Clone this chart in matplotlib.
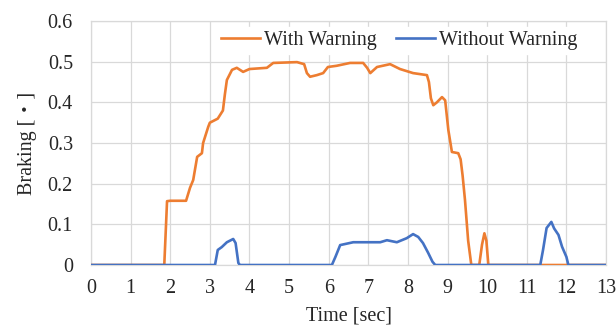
import matplotlib
matplotlib.use("Agg")
import matplotlib.pyplot as plt

plt.rcParams['font.family'] = ['Liberation Serif', 'Noto Sans CJK JP', 'DejaVu Serif']

# With Warning
t_with = [0, 1.85, 1.92, 2.0, 2.4, 2.5, 2.58, 2.68, 2.8, 2.83, 2.96, 3.0, 3.2, 3.33, 3.38,
          3.43, 3.56, 3.68, 3.84, 4.0, 4.44, 4.6, 5.2, 5.38, 5.45, 5.53, 5.7, 5.86, 5.98,
          6.2, 6.54, 6.87, 6.97, 7.05, 7.22, 7.55, 7.8, 8.13, 8.48, 8.53, 8.58, 8.64, 8.73,
          8.86, 8.94, 9.02, 9.11, 9.27, 9.33, 9.38, 9.44, 9.52, 9.6, 9.8, 9.87, 9.93, 9.98,
          10.03, 11.34, 12.05, 13]
v_with = [0, 0, 0.157, 0.158, 0.158, 0.19, 0.209, 0.266, 0.275, 0.30, 0.34, 0.35, 0.36, 0.38, 0.42,
          0.455, 0.48, 0.485, 0.475, 0.482, 0.485, 0.497, 0.499, 0.494, 0.472, 0.463, 0.467, 0.472, 0.487,
          0.49, 0.497, 0.497, 0.485, 0.472, 0.487, 0.494, 0.482, 0.472, 0.467, 0.45, 0.41, 0.393, 0.40,
          0.413, 0.405, 0.332, 0.278, 0.275, 0.26, 0.22, 0.16, 0.06, 0, 0, 0.05, 0.078, 0.06,
          0, 0, 0, 0]

# Without Warning
t_without = [0, 3.13, 3.2, 3.3, 3.43, 3.59, 3.65, 3.72, 3.76, 6.08, 6.17, 6.29, 6.62, 7.3, 7.47,
             7.72, 7.97, 8.13, 8.26, 8.38, 8.51, 8.62, 8.69, 11.34, 11.41, 11.5, 11.62, 11.69,
             11.8, 11.89, 12.0, 12.05, 13]
v_without = [0, 0, 0.037, 0.044, 0.056, 0.064, 0.054, 0.005, 0, 0, 0.02, 0.049, 0.056, 0.056, 0.061,
             0.056, 0.066, 0.076, 0.069, 0.054, 0.03, 0.008, 0, 0, 0.037, 0.091, 0.106, 0.09,
             0.074, 0.045, 0.02, 0, 0]

x_ticks = list(range(0, 14))
y_ticks = [0, 0.1, 0.2, 0.3, 0.4, 0.5, 0.6]
y_tick_labels = ['0', '0.1', '0.2', '0.3', '0.4', '0.5', '0.6']

FS = 14.5
TXT = '#262626'

fig = plt.figure(figsize=(6.16, 3.29), dpi=100)
ax = fig.add_axes([0.1477, 0.1945, 0.8361, 0.7415])

ax.plot(t_with, v_with, color='#ED7D31', lw=1.9, label='With Warning', zorder=3)
ax.plot(t_without, v_without, color='#4472C4', lw=1.9, label='Without Warning', zorder=4)

ax.set_xlim(0, 13)
ax.set_ylim(0, 0.6)
ax.set_xticks(x_ticks)
ax.set_yticks(y_ticks)
ax.set_yticklabels(y_tick_labels)
ax.grid(True, color='#D9D9D9', lw=0.9)
ax.set_axisbelow(True)
for s in ax.spines.values():
    s.set_color('#D9D9D9')
    s.set_linewidth(0.9)
ax.tick_params(length=0, labelsize=FS, colors=TXT)
ax.tick_params(axis='x', pad=10)
ax.tick_params(axis='y', pad=13)
ax.set_xlabel('Time [sec]', fontsize=FS, color=TXT, labelpad=6)
ax.set_ylabel('Braking [・]', fontsize=FS, color=TXT, labelpad=8)

leg = ax.legend(loc='center right', ncol=2, frameon=True, fontsize=FS,
                bbox_to_anchor=(0.953, 0.922), borderaxespad=0,
                handlelength=1.95, handletextpad=0.2,
                columnspacing=0.95, borderpad=0.2, fancybox=False)
leg.get_frame().set_facecolor('white')
leg.get_frame().set_edgecolor('white')
leg.get_frame().set_alpha(1)
for txt in leg.get_texts():
    txt.set_color(TXT)

fig.savefig('out.png', dpi=100)
